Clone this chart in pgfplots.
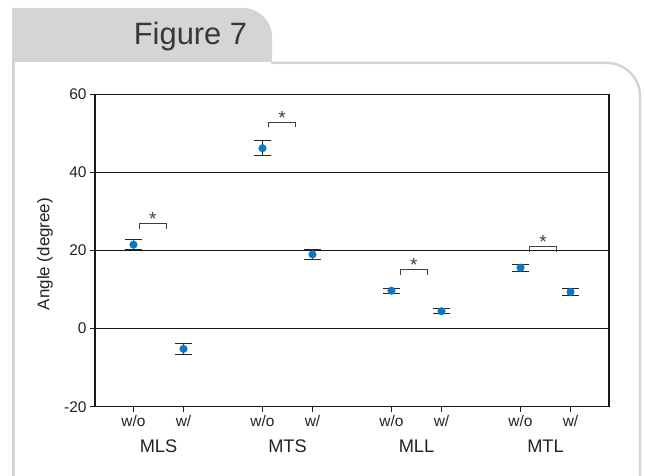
\documentclass[border=0pt]{standalone}
\usepackage{pgfplots}
\pgfplotsset{compat=1.18}
\usepackage{fontspec}
\setmainfont{Liberation Sans}
\definecolor{tabgray}{HTML}{D4D5D7}
\definecolor{bordergray}{HTML}{D3D4D6}
\definecolor{dotblue}{HTML}{0B77C5}
\definecolor{txt}{HTML}{222222}
\begin{document}
\begin{tikzpicture}
\begin{scope}[x=1bp,y=1bp]
\path[use as bounding box] (0,0) rectangle (645,476);
% tab
\fill[tabgray] (12,414) -- (12,468) -- (243,468) arc[start angle=90,end angle=0,radius=29bp] -- (272,414) -- cycle;
\node[anchor=base, text=black!78, font=\fontsize{31}{36}\selectfont, inner sep=0pt] at (190.5,431) {Figure 7};
% panel border
\draw[bordergray, line width=2.5bp] (13.5,0) -- (13.5,414);
\draw[bordergray, line width=2.5bp] (271,413) -- (607,413) arc[start angle=90,end angle=0,radius=33bp] -- (640,0);
% y label
\node[rotate=90, text=txt, font=\fontsize{17}{20}\selectfont] at (45,222) {Angle (degree)};
\end{scope}
\begin{axis}[
  at={(95bp,69.3bp)}, anchor=south west,
  scale only axis, width=514bp, height=312.4bp,
  xmin=-0.77, xmax=9.51, ymin=-20, ymax=60,
  ytick={-20,0,20,40,60},
  xtick={0,1,2.58,3.58,5.16,6.16,7.74,8.74},
  xticklabels={w/o,w/,w/o,w/,w/o,w/,w/o,w/},
  tick align=outside, major tick length=5bp,
  xtick pos=bottom, ytick pos=left,
  ymajorgrids, grid style={black!90, line width=1bp},
  axis line style={black!90, line width=1.2bp},
  tick style={black!90, line width=1bp},
  tick label style={text=txt, font=\fontsize{15.5}{18}\selectfont},
  /pgf/number format/assume math mode=true,
  clip=false,
]
\addplot[only marks, mark=*, mark size=3.8bp, mark options={fill=dotblue, draw=dotblue},
  error bars/.cd, y dir=both, y explicit,
  error bar style={line width=1bp, black!85},
  error mark=|,
  error mark options={line width=1bp, black!85, mark size=8.3bp}]
  table[x=x, y=y, y error=e] {
x y e
0 21.5 1.2
1 -5.2 1.5
2.58 46.2 2.0
3.58 19.0 1.25
5.16 9.7 0.65
6.16 4.45 0.62
7.74 15.6 0.9
8.74 9.4 0.8
};
\addplot[black!75, line width=1bp] coordinates {(0.12,25.6)(0.12,27.0)(0.65,27.0)(0.65,25.6)};
\addplot[black!75, line width=1bp] coordinates {(2.70,51.5)(2.70,52.9)(3.24,52.9)(3.24,51.5)};
\addplot[black!75, line width=1bp] coordinates {(5.34,13.8)(5.34,15.2)(5.87,15.2)(5.87,13.8)};
\addplot[black!75, line width=1bp] coordinates {(7.92,19.6)(7.92,20.9)(8.46,20.9)(8.46,19.6)};
\node[anchor=base, text=black!75, font=\fontsize{19}{21}\selectfont, inner sep=0pt] at (axis cs:0.385,26.4) {*};
\node[anchor=base, text=black!75, font=\fontsize{19}{21}\selectfont, inner sep=0pt] at (axis cs:2.97,52.15) {*};
\node[anchor=base, text=black!75, font=\fontsize{19}{21}\selectfont, inner sep=0pt] at (axis cs:5.605,14.65) {*};
\node[anchor=base, text=black!75, font=\fontsize{19}{21}\selectfont, inner sep=0pt] at (axis cs:8.19,20.55) {*};
\node[anchor=base, text=txt, font=\fontsize{18.3}{21}\selectfont] at (axis cs:0.5,-20) [yshift=-46bp] {MLS};
\node[anchor=base, text=txt, font=\fontsize{18.3}{21}\selectfont] at (axis cs:3.08,-20) [yshift=-46bp] {MTS};
\node[anchor=base, text=txt, font=\fontsize{18.3}{21}\selectfont] at (axis cs:5.66,-20) [yshift=-46bp] {MLL};
\node[anchor=base, text=txt, font=\fontsize{18.3}{21}\selectfont] at (axis cs:8.24,-20) [yshift=-46bp] {MTL};
\end{axis}
\end{tikzpicture}
\end{document}
